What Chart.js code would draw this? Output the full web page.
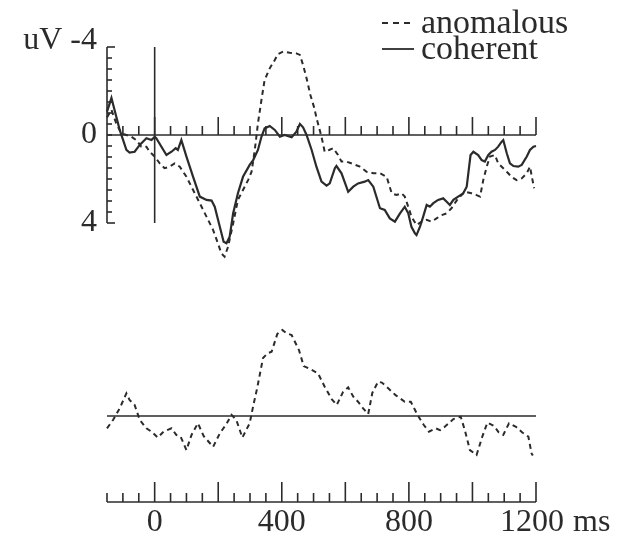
<!DOCTYPE html>
<html>
<head>
<meta charset="utf-8">
<script src="https://cdn.jsdelivr.net/npm/chart.js@4.4.0/dist/chart.umd.min.js"></script>
<style>
  html, body { margin: 0; padding: 0; background: #fff; }
  #wrap { width: 623px; height: 538px; }
</style>
</head>
<body>
<div id="wrap"><canvas id="erpChart" width="623" height="538"></canvas></div>
<script>
// ERP averages (uV, negative up) for the two conditions, and their difference wave
const cohTimes = [-150, -136, -110, -89, -79, -63, -47, -26, -10, 0, 5, 37, 53, 66, 73, 84, 100, 121, 142, 163,
  179, 189, 205, 217, 226, 236, 247, 262, 278, 299, 310, 325, 336, 346, 362, 378, 394, 409, 431, 446,
  457, 467, 478, 494, 509, 525, 541, 551, 567, 572, 588, 609, 625, 640, 661, 672, 688, 709, 724, 740,
  756, 772, 787, 798, 808, 819, 824, 835, 845, 856, 866, 877, 892, 908, 919, 929, 940, 955, 971, 982,
  987, 994, 1003, 1018, 1029, 1039, 1050, 1060, 1071, 1081, 1092, 1097, 1108, 1118, 1129, 1144, 1155, 1171, 1181, 1192, 1200]
const cohValues = [-1.06, -1.68, -0.23, 0.68, 0.8, 0.76, 0.45, 0.15, 0.23, 0.08, 0.15, 0.91, 0.76, 0.6, 0.68, 0.23, 0.98, 1.9, 2.8, 2.95,
  2.98, 3.26, 4.17, 4.85, 4.92, 4.62, 3.56, 2.65, 1.9, 1.36, 1.14, 0.68, 0.08, -0.3, -0.41, -0.23, 0.08, 0, 0.1, -0.15,
  -0.5, -0.35, 0, 0.68, 1.44, 2.12, 2.3, 2.2, 1.51, 1.41, 1.74, 2.58, 2.35, 2.2, 2.12, 2.05, 2.35, 3.33, 3.41, 3.79,
  3.94, 3.56, 3.26, 3.56, 4.17, 4.47, 4.55, 4.17, 3.71, 3.18, 3.26, 3.1, 2.95, 2.88, 3.03, 3.18, 2.95, 2.8, 2.65, 2.35,
  1.74, 0.91, 0.76, 0.91, 1.14, 1.21, 0.91, 0.76, 0.68, 0.53, 0.3, 0.23, 0.83, 1.29, 1.41, 1.44, 1.36, 0.98, 0.68, 0.53, 0.5]

const anoTimes = [-150, -136, -121, -105, -89, -73, -58, -42, -26, -16, 0, 16, 31, 47, 63, 79, 100, 121, 142, 163,
  184, 199, 210, 220, 231, 247, 262, 278, 294, 305, 315, 325, 336, 346, 362, 378, 388, 404, 425, 446,
  457, 467, 478, 490, 501, 511, 525, 535, 549, 562, 577, 588, 604, 625, 646, 667, 688, 709, 730, 746,
  761, 777, 787, 798, 808, 824, 840, 856, 871, 887, 903, 919, 934, 955, 976, 997, 1013, 1024, 1034, 1045,
  1055, 1071, 1081, 1092, 1108, 1123, 1139, 1155, 1171, 1181, 1187, 1194]
const anoValues = [-0.8, -1.14, -0.53, -0.08, 0, 0.08, 0.23, 0.53, 0.53, 0.76, 0.98, 1.29, 1.51, 1.44, 1.29, 1.44, 1.9, 2.5, 3.1, 3.71,
  4.32, 4.92, 5.38, 5.53, 5.08, 4.02, 2.95, 2.5, 2.05, 1.67, 0.68, -0.53, -1.59, -2.5, -3.03, -3.41, -3.68, -3.79, -3.74, -3.71,
  -3.64, -3.18, -2.58, -1.82, -1.29, -0.68, 0.08, 0.76, 0.68, 0.6, 0.91, 1.21, 1.21, 1.32, 1.44, 1.67, 1.74, 1.74, 1.9, 2.65,
  2.73, 2.65, 2.8, 3.26, 3.71, 4.09, 3.94, 3.86, 3.94, 3.79, 3.64, 3.56, 3.33, 2.88, 2.58, 2.65, 2.73, 2.8, 2.05, 1.44,
  0.98, 0.91, 1.29, 1.44, 1.67, 1.9, 2.05, 1.97, 1.74, 1.44, 1.9, 2.42]

const diffTimes = [-150, -131, -110, -89, -79, -63, -47, -26, -10, 10, 28, 53, 68, 82, 100, 116, 136, 154, 184, 205,
  226, 242, 257, 276, 299, 310, 323, 341, 356, 368, 386, 402, 415, 431, 454, 469, 488, 514, 535, 557,
  573, 593, 609, 625, 640, 656, 672, 685, 703, 715, 735, 758, 787, 806, 827, 847, 863, 884, 898, 913,
  940, 963, 976, 992, 1013, 1031, 1047, 1068, 1083, 1097, 1115, 1137, 1157, 1176, 1186, 1190]
const diffValues = [0.56, 0.18, -0.35, -1.03, -0.73, -0.5, 0.18, 0.56, 0.71, 0.98, 0.71, 0.56, 0.86, 0.95, 1.55, 0.86, 0.33, 0.91, 1.4, 0.79,
  0.36, -0.05, 0.18, 0.98, 0.33, -0.45, -1.3, -2.64, -2.86, -2.92, -3.73, -3.91, -3.76, -3.68, -3.0, -2.27, -2.14, -1.94, -1.33, -0.77,
  -0.5, -1.1, -1.3, -0.88, -0.65, -0.35, -0.09, -1.05, -1.56, -1.52, -1.26, -0.95, -0.65, -0.65, -0.05, 0.41, 0.71, 0.56, 0.64, 0.49,
  0.14, 0.03, 0.64, 1.55, 1.77, 0.94, 0.3, 0.45, 0.75, 0.86, 0.33, 0.49, 0.75, 0.94, 1.7, 1.8]

const seriesNames = ['anomalous', 'coherent']
const uvTicks = [-4, 0, 4]
const uvTickLabels = ['uV -4', '0', '4']
const msTicks = [0, 400, 800, 1200]
const msTickLabels = ['0', '400', '800', '1200']
const msUnit = 'ms'

const timeMin = -150
const timeMax = 1200
const ink = '#2b2b2b'
const labelFont = '32px "Liberation Serif", serif'
const legendFont = '34px "Liberation Serif", serif'

function toPoints(times, values) {
    return times.map((t, i) => ({ x: t, y: values[i] }))
}

function seg(ctx, x1, y1, x2, y2) {
    ctx.beginPath()
    ctx.moveTo(x1, y1)
    ctx.lineTo(x2, y2)
    ctx.stroke()
}

// hand-drawn style axes: uV axis, onset marker, time ticks, baselines
const erpAxes = {
    id: 'erpAxes',
    beforeDatasetsDraw(chart) {
        const { ctx, chartArea } = chart
        const { x, yErp, yDiff } = chart.scales
        const left = x.getPixelForValue(timeMin)
        const right = x.getPixelForValue(timeMax)
        const top = yErp.getPixelForValue(-4)
        const bottom = yErp.getPixelForValue(4)
        const zero = yErp.getPixelForValue(0)

        ctx.save()
        ctx.strokeStyle = ink
        ctx.lineWidth = 1.6

        // uV axis with half-volt ticks
        seg(ctx, left, top, left, bottom)
        for (let v = -4; v <= 4; v += 0.5) {
            const py = yErp.getPixelForValue(v)
            const len = (v === -4 || v === 4) ? 8 : 5
            seg(ctx, left, py, left + len, py)
        }

        // stimulus onset
        const onset = x.getPixelForValue(0)
        seg(ctx, onset, top, onset, bottom)

        // time axis through 0 uV, ticks pointing up
        seg(ctx, left, zero, right, zero)
        for (let t = timeMin + 50; t <= timeMax; t += 50) {
            const px = x.getPixelForValue(t)
            const len = (t % 200 === 0) ? 18 : 9
            seg(ctx, px, zero, px, zero - len)
        }

        // baseline of the difference wave
        const dz = yDiff.getPixelForValue(0)
        seg(ctx, left, dz, right, dz)

        // bottom time axis
        const base = chartArea.bottom
        seg(ctx, left, base, right, base)
        for (let t = timeMin; t <= timeMax; t += 50) {
            const px = x.getPixelForValue(t)
            const len = (t % 200 === 0) ? 20 : 9
            seg(ctx, px, base, px, base - len)
        }
        ctx.restore()
    },
    afterDraw(chart) {
        const { ctx, chartArea } = chart
        const { x, yErp } = chart.scales
        ctx.save()
        ctx.fillStyle = ink
        ctx.font = labelFont

        // uV labels, right aligned next to the axis
        ctx.textAlign = 'right'
        ctx.textBaseline = 'middle'
        uvTicks.forEach((v, i) => {
            const py = yErp.getPixelForValue(v)
            ctx.fillText(uvTickLabels[i], 97, i === 0 ? py - 6 : py)
        })

        // time labels under the bottom axis
        ctx.textAlign = 'center'
        ctx.textBaseline = 'alphabetic'
        const by = chartArea.bottom + 29
        msTicks.forEach((t, i) => {
            const px = x.getPixelForValue(t) - (i === msTicks.length - 1 ? 4 : 0)
            ctx.fillText(msTickLabels[i], px, by)
        })
        const lastX = x.getPixelForValue(msTicks[msTicks.length - 1]) - 4
        const lastW = ctx.measureText(msTickLabels[msTickLabels.length - 1]).width
        ctx.textAlign = 'left'
        ctx.fillText(msUnit, lastX + lastW / 2 + 9, by)

        // legend, top right
        ctx.font = legendFont
        chart.data.datasets.slice(0, 2).forEach((ds, i) => {
            const ly = 23 + i * 26
            ctx.strokeStyle = ink
            ctx.lineWidth = 1.8
            ctx.setLineDash(ds.borderDash ? [6, 5] : [])
            seg(ctx, 382, ly, 414, ly)
            ctx.setLineDash([])
            ctx.textBaseline = 'middle'
            ctx.fillText(ds.label, 421, ly + 1)
        })
        ctx.restore()
    }
}

const ctx = document.getElementById('erpChart').getContext('2d')

new Chart(ctx, {
    type: 'line',
    data: {
        datasets: [
            {
                label: seriesNames[0],
                data: toPoints(anoTimes, anoValues),
                yAxisID: 'yErp',
                borderColor: ink,
                borderWidth: 2,
                borderDash: [5, 4],
                pointRadius: 0,
                tension: 0,
                clip: false
            },
            {
                label: seriesNames[1],
                data: toPoints(cohTimes, cohValues),
                yAxisID: 'yErp',
                borderColor: ink,
                borderWidth: 2.2,
                pointRadius: 0,
                tension: 0,
                clip: false
            },
            {
                label: 'difference',
                data: toPoints(diffTimes, diffValues),
                yAxisID: 'yDiff',
                borderColor: ink,
                borderWidth: 2,
                borderDash: [5, 4],
                pointRadius: 0,
                tension: 0,
                clip: false
            }
        ]
    },
    options: {
        responsive: false,
        animation: false,
        devicePixelRatio: 1,
        layout: { padding: { left: 107, right: 87, top: 10, bottom: 36 } },
        plugins: { legend: { display: false }, tooltip: { enabled: false } },
        scales: {
            x: { type: 'linear', min: timeMin, max: timeMax, display: false },
            // 22 px per uV in both panels, negative up
            yErp: { type: 'linear', reverse: true, min: -5.682, max: 16.682, display: false },
            yDiff: { type: 'linear', reverse: true, min: -18.455, max: 3.909, display: false }
        }
    },
    plugins: [erpAxes]
})
</script>
</body>
</html>
